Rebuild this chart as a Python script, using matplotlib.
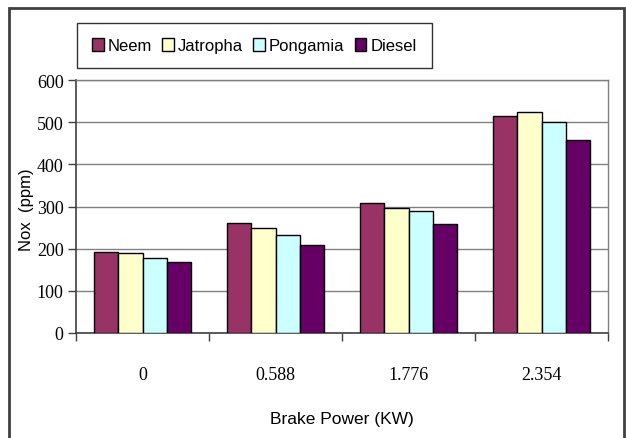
import numpy as np
import matplotlib.pyplot as plt
from matplotlib.patches import Rectangle

# data
power = ['0', '0.588', '1.776', '2.354']
neem = [193, 260, 308, 515]
jatropha = [190, 248, 297, 523]
pongamia = [179, 233, 290, 501]
diesel = [168, 209, 259, 458]

series = [neem, jatropha, pongamia, diesel]
names = ['Neem', 'Jatropha', 'Pongamia', 'Diesel']
colors = ['#993366', '#FFFFCC', '#CCFFFF', '#660066']

fig = plt.figure(figsize=(6.26, 4.39), dpi=100)
ax = fig.add_axes([76/626, 1-334/439, 532/626, 253/439])

x = np.arange(len(power))
w = 0.184
for j, (vals, name, c) in enumerate(zip(series, names, colors)):
    ax.bar(x + (j-1.5)*w, vals, w, color=c, edgecolor='black', linewidth=1,
           label=name, zorder=3)

ax.set_xlim(-0.5, len(power)-0.5)
ax.set_ylim(0, 600)
ax.set_yticks(range(0, 601, 100))
ax.yaxis.grid(True, color='#808080', linewidth=1, zorder=0)
ax.set_axisbelow(True)

ax.set_xticks(x)
ax.set_xticklabels(power, family='Liberation Serif', fontsize=13)
ax.set_xticks(np.arange(-0.5, len(power)), minor=True)
ax.tick_params(axis='x', which='major', length=0, pad=24)
ax.tick_params(axis='x', which='minor', length=6, width=1, color='#404040', direction='out')
ax.tick_params(axis='y', length=6, width=1, color='#404040', direction='out', pad=3)
for lab in ax.get_yticklabels():
    lab.set_family('Liberation Serif')
    lab.set_fontsize(13)

for s in ['top', 'right']:
    ax.spines[s].set_color('#808080')
    ax.spines[s].set_linewidth(1)
for s in ['left', 'bottom']:
    ax.spines[s].set_color('#404040')
    ax.spines[s].set_linewidth(1.2)

ax.set_xlabel('Brake Power (KW)', family='Liberation Sans', fontsize=12.5, labelpad=20)
fig.text(27/626, 1-210/439, 'Nox  (ppm)', rotation=90, ha='center', va='center',
         family='Liberation Sans', fontsize=12)

leg = fig.legend(loc='upper left', bbox_to_anchor=(77/626, 1-24/439), ncol=4,
                 frameon=True, fancybox=False, prop={'family': 'Liberation Sans', 'size': 12},
                 handlelength=0.7, handleheight=0.8, handletextpad=0.25, columnspacing=0.6,
                 borderpad=0.9, borderaxespad=0)
leg.get_frame().set_edgecolor('black')
leg.get_frame().set_linewidth(1)

# outer border of the chart area
fig.patches.append(Rectangle((9/626, -0.05), 615/626, 1.05-9/439, transform=fig.transFigure,
                             fill=False, edgecolor='#404040', linewidth=2))

fig.savefig('out.png', dpi=100)
